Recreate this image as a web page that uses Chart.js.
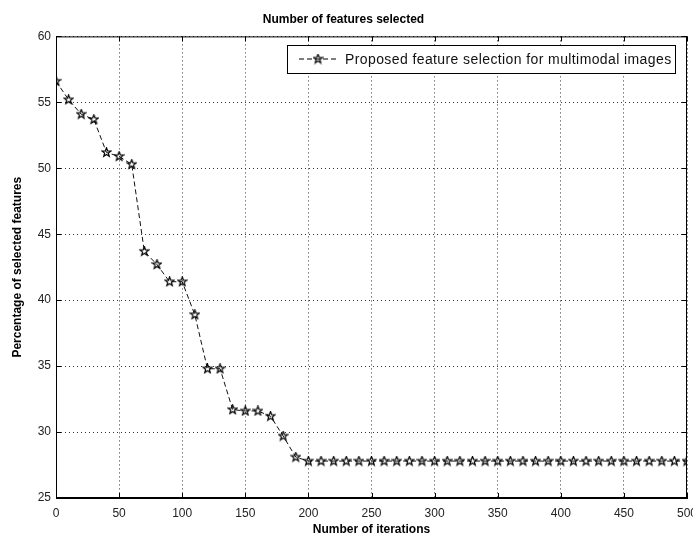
<!DOCTYPE html>
<html>
<head>
<meta charset="utf-8">
<script src="https://cdn.jsdelivr.net/npm/chart.js@4.4.0/dist/chart.umd.min.js"></script>
<style>
  html, body { margin: 0; padding: 0; background: #fff; }
  #wrap { width: 693px; height: 540px; }
</style>
</head>
<body>
<div id="wrap"><canvas id="featChart"></canvas></div>
<script>
// iterations (x) and percentage of selected features (y)
const iterations = [0, 10, 20, 30, 40, 50, 60, 70, 80, 90, 100, 110, 120, 130, 140, 150, 160, 170, 180, 190,
  200, 210, 220, 230, 240, 250, 260, 270, 280, 290, 300, 310, 320, 330, 340, 350, 360, 370, 380, 390,
  400, 410, 420, 430, 440, 450, 460, 470, 480, 490, 500];
const selectedPct = [56.6, 55.2, 54.1, 53.7, 51.2, 50.9, 50.3, 43.7, 42.7, 41.4, 41.4, 38.9, 34.8, 34.8, 31.7, 31.6, 31.6, 31.2, 29.7, 28.1,
  27.8, 27.8, 27.8, 27.8, 27.8, 27.8, 27.8, 27.8, 27.8, 27.8, 27.8, 27.8, 27.8, 27.8, 27.8, 27.8, 27.8, 27.8, 27.8, 27.8,
  27.8, 27.8, 27.8, 27.8, 27.8, 27.8, 27.8, 27.8, 27.8, 27.8, 27.8];
const xTicks = [0, 50, 100, 150, 200, 250, 300, 350, 400, 450, 500];
const yTicks = [25, 30, 35, 40, 45, 50, 55, 60];
const seriesLabel = "Proposed feature selection for multimodal images";

// pentagram marker like matlab's 'p'
function makeStar(size) {
  const c = document.createElement("canvas");
  c.width = size; c.height = size;
  const g = c.getContext("2d");
  const cx = size / 2, cy = size / 2, R = size / 2 - 0.8, r = R * 0.42;
  g.beginPath();
  for (let i = 0; i < 10; i++) {
    const rad = i % 2 === 0 ? R : r;
    const a = -Math.PI / 2 + i * Math.PI / 5;
    const px = cx + rad * Math.cos(a), py = cy + rad * Math.sin(a);
    if (i === 0) g.moveTo(px, py); else g.lineTo(px, py);
  }
  g.closePath();
  g.strokeStyle = "#000";
  g.lineWidth = 1.2;
  g.stroke();
  return c;
}
const starImg = makeStar(11);

const tickFont = { family: "Arial, 'Liberation Sans'", size: 12 };
const boldFont = { family: "Arial, 'Liberation Sans'", size: 12, weight: "bold" };

// box around the plot, inner tick marks, and the legend inside the axes
const frameAndLegend = {
  id: "frameAndLegend",
  afterDraw(chart) {
    const { ctx, chartArea: a, scales } = chart;
    ctx.save();
    ctx.strokeStyle = "#000";
    ctx.lineWidth = 1;
    ctx.strokeRect(a.left + 0.5, a.top + 0.5, a.right - a.left - 1, a.bottom - a.top - 1);
    // small inward ticks
    ctx.beginPath();
    xTicks.forEach((v) => {
      const px = Math.round(scales.x.getPixelForValue(v)) + 0.5;
      ctx.moveTo(px, a.bottom); ctx.lineTo(px, a.bottom - 5);
      ctx.moveTo(px, a.top); ctx.lineTo(px, a.top + 5);
    });
    yTicks.forEach((v) => {
      const py = Math.round(scales.y.getPixelForValue(v)) + 0.5;
      ctx.moveTo(a.left, py); ctx.lineTo(a.left + 5, py);
      ctx.moveTo(a.right, py); ctx.lineTo(a.right - 5, py);
    });
    ctx.stroke();

    // legend box
    const bx = 287, by = 45, bw = 388, bh = 28;
    ctx.fillStyle = "#fff";
    ctx.fillRect(bx, by, bw, bh);
    ctx.strokeRect(bx + 0.5, by + 0.5, bw, bh);
    const ly = by + bh / 2;
    ctx.setLineDash([5, 3]);
    ctx.beginPath();
    ctx.moveTo(bx + 12, ly); ctx.lineTo(bx + 50, ly);
    ctx.stroke();
    ctx.setLineDash([]);
    ctx.drawImage(starImg, bx + 31 - 5.5, ly - 5.5);
    ctx.fillStyle = "#111";
    ctx.font = "14px Arial, 'Liberation Sans'";
    ctx.letterSpacing = "0.4px";
    ctx.textBaseline = "middle";
    ctx.fillText(seriesLabel, bx + 58, ly + 1);
    ctx.restore();
  },
};

const ctx = document.getElementById("featChart").getContext("2d");
new Chart(ctx, {
  type: "line",
  data: {
    labels: iterations,
    datasets: [
      {
        label: seriesLabel,
        data: iterations.map((it, i) => ({ x: it, y: selectedPct[i] })),
        borderColor: "#111",
        borderWidth: 1,
        borderDash: [5, 3],
        pointStyle: starImg,
        pointRadius: 5,
        tension: 0,
        fill: false,
      },
    ],
  },
  options: {
    responsive: true,
    maintainAspectRatio: false,
    animation: false,
    devicePixelRatio: 1,
    layout: { padding: { left: 0, right: 6, top: 0, bottom: 0 } },
    plugins: {
      legend: { display: false },
      tooltip: { enabled: false },
      title: {
        display: true,
        text: "Number of features selected",
        color: "#000",
        font: boldFont,
        padding: { top: 12, bottom: 10 },
      },
    },
    scales: {
      x: {
        type: "linear",
        min: 0,
        max: 500,
        afterBuildTicks: (s) => { s.ticks = xTicks.map((v) => ({ value: v })); },
        // fixed axis height, and let the "500" label run off the edge like the original
        afterFit: (s) => { s.height = 42; s.paddingRight = 0; s.paddingLeft = 0; },
        ticks: { color: "#222", font: tickFont, padding: 8, maxRotation: 0 },
        grid: { color: "#333", drawTicks: false },
        border: { color: "#000", width: 1, dash: [1, 3] },
        title: { display: true, text: "Number of iterations", color: "#000", font: boldFont, padding: { top: 0, bottom: 3 } },
      },
      y: {
        min: 25,
        max: 60,
        afterBuildTicks: (s) => { s.ticks = yTicks.map((v) => ({ value: v })); },
        afterFit: (s) => { s.width = 56; s.paddingTop = 0; s.paddingBottom = 0; },
        ticks: { color: "#222", font: tickFont, padding: 5 },
        grid: { color: "#333", drawTicks: false },
        border: { color: "#000", width: 1, dash: [1, 3] },
        title: { display: true, text: "Percentage of selected features", color: "#000", font: boldFont, padding: { top: 10, bottom: 0 } },
      },
    },
  },
  plugins: [frameAndLegend],
});
</script>
</body>
</html>
